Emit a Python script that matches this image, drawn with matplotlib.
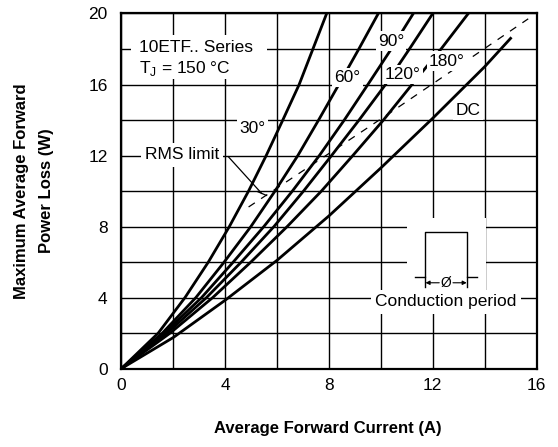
import matplotlib
matplotlib.use("Agg")
import matplotlib.pyplot as plt
from matplotlib.patches import Rectangle

plt.rcParams['font.family'] = ['Liberation Sans', 'DejaVu Sans']

power_levels = [0, 2, 4, 6, 8, 10, 12, 14, 16, 18, 20]
# average forward current (A) at those power levels
current_30 = [0, 1.42, 2.45, 3.35, 4.16, 4.90, 5.58, 6.22, 6.85, 7.38, 7.91]
current_60 = [0, 1.58, 2.87, 3.96, 4.99, 5.92, 6.80, 7.60, 8.38, 9.15, 9.90]
current_90 = [0, 1.66, 3.09, 4.31, 5.49, 6.59, 7.63, 8.59, 9.50, 10.40, 11.25]
current_120 = [0, 1.76, 3.28, 4.62, 5.88, 7.02, 8.10, 9.16, 10.18, 11.10, 12.00]
current_180 = [0, 1.88, 3.52, 4.99, 6.39, 7.71, 8.92, 10.10, 11.20, 12.32, 13.37]

# DC curve
current_dc = [0, 2, 4, 6, 8, 10, 12, 14, 15]
power_dc = [0, 1.75, 3.85, 6.1, 8.6, 11.3, 14.1, 17.0, 18.6]

# RMS limit line
rms_current = [4.9, 10.35, 15.68]
rms_power = [9.1, 14.4, 19.7]

x_ticks = [0, 4, 8, 12, 16]
y_ticks = [0, 4, 8, 12, 16, 20]

fig = plt.figure(figsize=(5.58, 4.47), dpi=100)
ax = fig.add_axes([0.2177, 0.1756, 0.7438, 0.7942])
ax.set_xlim(0, 16)
ax.set_ylim(0, 20)
ax.set_xticks(x_ticks)
ax.set_yticks(y_ticks)
ax.set_xticks(range(0, 17, 2), minor=True)
ax.set_yticks(range(0, 21, 2), minor=True)
ax.grid(which='both', color='black', linewidth=1.0, zorder=0)
ax.set_axisbelow(True)
ax.tick_params(which='both', length=0, labelsize=12.5)
ax.tick_params(axis='x', pad=7)
ax.tick_params(axis='y', pad=10)
for sp in ax.spines.values():
    sp.set_linewidth(1.6)

# white areas behind the text blocks
ax.add_patch(Rectangle((0.35, 16.3), 5.25, 2.5, facecolor='white', edgecolor='none', zorder=1))
ax.add_patch(Rectangle((11.0, 4.3), 3.07, 4.2, facecolor='white', edgecolor='none', zorder=1))

# curves
for cur in [current_30, current_60, current_90, current_120, current_180]:
    ax.plot(cur, power_levels, color='black', linewidth=2.0, zorder=3)
ax.plot(current_dc, power_dc, color='black', linewidth=2.0, zorder=3)
ax.plot(rms_current, rms_power, color='black', linewidth=0.9, dashes=(6, 6), zorder=3)

# curve labels
lbl = dict(ha='center', va='center', fontsize=12.5, zorder=5,
           bbox=dict(facecolor='white', edgecolor='none', pad=1.5))
ax.text(5.05, 13.5, '30°', **lbl)
ax.text(8.71, 16.39, '60°', **lbl)
ax.text(10.39, 18.45, '90°', **lbl)
ax.text(10.85, 16.54, '120°', **lbl)
ax.text(12.54, 17.32, '180°', **lbl)
ax.text(13.36, 14.56, 'DC', **lbl)

ax.text(0.68, 18.1, '10ETF.. Series', ha='left', va='center', fontsize=12.5, zorder=5)
ax.text(0.68, 16.9, 'T$_\\mathregular{J}$ = 150 °C', ha='left', va='center', fontsize=12.5, zorder=5)

ax.text(2.33, 12.03, 'RMS limit', ha='center', va='center', fontsize=12.5, zorder=5,
        bbox=dict(facecolor='white', edgecolor='none', pad=3))
ax.plot([4.12, 5.40], [11.93, 9.87], color='black', linewidth=0.9, zorder=4)
ax.plot([5.24, 5.59], [9.97, 9.75], color='black', linewidth=0.9, zorder=4)

# conduction period sketch
ax.plot([11.31, 11.70, 11.70, 13.33, 13.33, 13.69],
        [5.17, 5.17, 7.67, 7.67, 5.17, 5.17], color='black', linewidth=1.0, zorder=4)
ax.plot([11.70, 11.70], [5.17, 4.61], color='black', linewidth=1.0, zorder=4)
ax.plot([13.33, 13.33], [5.17, 4.61], color='black', linewidth=1.0, zorder=4)
ax.text(12.51, 4.83, 'Ø', ha='center', va='center', fontsize=10, zorder=5)
ax.annotate('', xy=(11.72, 4.83), xytext=(12.25, 4.83), zorder=5,
            arrowprops=dict(arrowstyle='-|>', color='black', lw=0.8, mutation_scale=6,
                            shrinkA=0, shrinkB=0))
ax.annotate('', xy=(13.31, 4.83), xytext=(12.78, 4.83), zorder=5,
            arrowprops=dict(arrowstyle='-|>', color='black', lw=0.8, mutation_scale=6,
                            shrinkA=0, shrinkB=0))
ax.text(12.51, 3.75, 'Conduction period', ha='center', va='center', fontsize=12.5, zorder=5,
        bbox=dict(facecolor='white', edgecolor='none', pad=3))

# axis titles
fig.text(328 / 558, 1 - 428 / 447, 'Average Forward Current (A)', ha='center', va='center',
         fontsize=12, fontweight='bold')
fig.text(22 / 558, 1 - 191 / 447, 'Maximum Average Forward', ha='center', va='center',
         rotation=90, fontsize=12, fontweight='bold')
fig.text(47 / 558, 1 - 191 / 447, 'Power Loss (W)', ha='center', va='center',
         rotation=90, fontsize=12, fontweight='bold')

fig.savefig('out.png', dpi=100)
